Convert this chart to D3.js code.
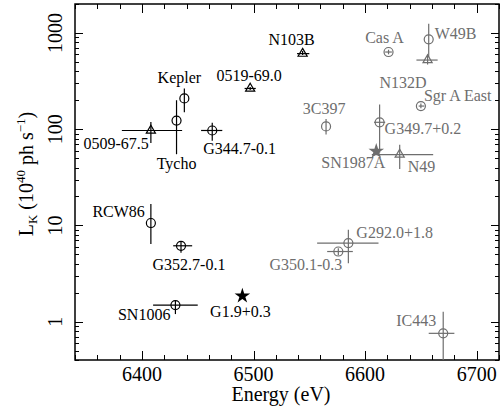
<!DOCTYPE html>
<html>
<head>
<meta charset="utf-8">
<script src="https://cdn.jsdelivr.net/npm/d3@7"></script>
<style>
  body { margin: 0; background: #fff; font-family: 'Liberation Serif', serif; }
  svg text { font-family: 'Liberation Serif', 'Times New Roman', serif; }
</style>
</head>
<body>
<svg id="chart" width="501" height="410"></svg>
<script>
// remnant names, line energy (eV), K-line luminosity (1e40 ph/s)
var names = ["0509-67.5", "Tycho", "Kepler", "G344.7-0.1", "0519-69.0", "N103B",
  "RCW86", "G352.7-0.1", "SN1006", "G1.9+0.3",
  "3C397", "Cas A", "W49B", "N132D", "Sgr A East", "G349.7+0.2", "SN1987A", "N49",
  "G292.0+1.8", "G350.1-0.3", "IC443"];
var energy = [6408, 6431, 6438, 6463, 6497, 6544,
  6408, 6435, 6430, 6490,
  6565, 6621, 6657, 6656, 6650, 6613, 6610, 6631,
  6585, 6576, 6670];
var lum = [97, 123, 209, 97, 265, 610,
  10.6, 6.15, 1.49, 1.85,
  107, 634, 860, 523, 174, 118, 59, 54.5,
  6.56, 5.36, 0.757];
var eLo = [6382, 6431, 6438, 6453, 6492, 6539,
  6408, 6428, 6410, 6490,
  6565, 6618, 6657, 6646, 6648, 6608, 6610, 6606,
  6557, 6566, 6657];
var eHi = [6436, 6431, 6438, 6472, 6502, 6550,
  6408, 6445, 6450, 6490,
  6565, 6624, 6657, 6665, 6653, 6618, 6610, 6661,
  6612, 6589, 6680];
var lLo = [72, 55, 150, 76, 255, 590,
  6.4, 5.2, 1.2, 1.85,
  88, 600, 560, 470, 165, 57, 59, 38.6,
  4.06, 4.9, 0.3];
var lHi = [119, 200, 265, 117, 275, 650,
  16.7, 6.8, 1.68, 1.85,
  128, 670, 1250, 580, 185, 181, 59, 69,
  9.0, 5.8, 1.27];
var kind = ["tri", "circ", "circ", "circ", "tri", "tri",
  "circ", "circ", "circ", "star",
  "circ", "circ", "circ", "tri", "circ", "circ", "star", "tri",
  "circ", "circ", "circ"];
var grey = [0, 0, 0, 0, 0, 0,
  0, 0, 0, 0,
  1, 1, 1, 1, 1, 1, 1, 1,
  1, 1, 1];
var xTicks = [6400, 6500, 6600, 6700];
var yTicks = [1, 10, 100, 1000];

// label placement: anchor, dx, dy relative to the marker
var labelPos = {
  "0509-67.5": ["end", -2, 19], "Tycho": ["middle", 0, 48], "Kepler": ["middle", -5, -15],
  "G344.7-0.1": ["start", -9, 24], "0519-69.0": ["middle", -1, -7], "N103B": ["middle", -11, -9],
  "RCW86": ["end", -6, -6], "G352.7-0.1": ["middle", 8, 24], "SN1006": ["end", -5, 15],
  "G1.9+0.3": ["middle", -2, 21], "3C397": ["middle", -2, -12], "Cas A": ["middle", -4, -9],
  "W49B": ["start", 6, 0], "N132D": ["end", -1, 28], "Sgr A East": ["start", 3, -5],
  "G349.7+0.2": ["start", 5, 12], "SN1987A": ["end", 9, 17], "N49": ["start", 8, 17],
  "G292.0+1.8": ["start", 8, -5], "G350.1-0.3": ["end", 4, 18], "IC443": ["end", -7, -7]
};

var FONT = "Liberation Serif";

var svg = d3.select("#chart"),
    margin = {top: 4, right: 2, bottom: 50, left: 75},
    width = +svg.attr("width") - margin.left - margin.right,
    height = +svg.attr("height") - margin.top - margin.bottom;

var x = d3.scaleLinear().domain([6340, 6720]).range([0, width]),
    y = d3.scaleLog().domain([0.4, 2000]).range([height, 0]);

var g = svg.append("g")
    .attr("transform", "translate(" + margin.left + "," + margin.top + ")")
    .style("font-family", FONT);

var black = "#000", gray = "#6e6e6e";
function col(i) { return grey[i] ? gray : black; }

// ticks
var xMinor = d3.range(6340, 6721, 20);
var yMinor = [];
[0.1, 1, 10, 100, 1000].forEach(function(d) {
  for (var k = 1; k <= 9; k++) {
    var v = d * k;
    if (v >= 0.4 && v <= 2000) yMinor.push(v);
  }
});
function isMajorY(v) { return yTicks.some(function(t) { return Math.abs(t - v) < 1e-9; }); }

var tk = g.append("g").attr("stroke", "#000").attr("stroke-width", 1);
xMinor.forEach(function(v) {
  var len = xTicks.indexOf(v) >= 0 ? 9 : 5;
  var px = Math.round(x(v)) + 0.5;
  tk.append("line").attr("x1", px).attr("x2", px).attr("y1", height).attr("y2", height - len);
  tk.append("line").attr("x1", px).attr("x2", px).attr("y1", 0).attr("y2", len);
});
yMinor.forEach(function(v) {
  var len = isMajorY(v) ? 8 : 4;
  var py = Math.round(y(v)) + 0.5;
  tk.append("line").attr("x1", 0).attr("x2", len).attr("y1", py).attr("y2", py);
  tk.append("line").attr("x1", width).attr("x2", width - len).attr("y1", py).attr("y2", py);
});

g.append("rect").attr("x", 0).attr("y", 0).attr("width", width).attr("height", height)
  .attr("fill", "none").attr("stroke", "#000").attr("stroke-width", 1.5);

g.selectAll(".xt").data(xTicks).enter().append("text")
  .style("font-family", FONT)
  .attr("x", function(d) { return x(d); }).attr("y", height + 21)
  .attr("text-anchor", "middle").attr("font-size", 20).text(function(d) { return d; });

g.selectAll(".yt").data(yTicks).enter().append("text")
  .style("font-family", FONT)
  .attr("transform", function(d) { return "translate(-13," + y(d) + ") rotate(-90)"; })
  .attr("text-anchor", "middle").attr("font-size", 20).text(function(d) { return d; });

g.append("text").style("font-family", FONT)
  .attr("x", width / 2 - 6).attr("y", height + 41)
  .attr("text-anchor", "middle").attr("font-size", 20).text("Energy (eV)");

var yt = g.append("text").style("font-family", FONT)
  .attr("transform", "translate(-42," + (height / 2 - 8) + ") rotate(-90)")
  .attr("text-anchor", "middle").attr("font-size", 20);
yt.append("tspan").text("L");
yt.append("tspan").attr("font-size", 13).attr("dy", 4).text("K");
yt.append("tspan").attr("dy", -4).text(" (10");
yt.append("tspan").attr("font-size", 13).attr("dy", -8).text("40");
yt.append("tspan").attr("dy", 8).text(" ph s");
yt.append("tspan").attr("font-size", 13).attr("dy", -8).text("\u22121");
yt.append("tspan").attr("dy", 8).text(")");

// points
var idx = d3.range(names.length);
var pts = g.selectAll(".pt").data(idx).enter().append("g")
  .attr("class", "pt").attr("stroke", col).attr("fill", "none").attr("stroke-width", 1.2);

pts.append("line")
  .attr("x1", function(i) { return x(eLo[i]); }).attr("x2", function(i) { return x(eHi[i]); })
  .attr("y1", function(i) { return y(lum[i]); }).attr("y2", function(i) { return y(lum[i]); });
pts.append("line")
  .attr("x1", function(i) { return x(energy[i]); }).attr("x2", function(i) { return x(energy[i]); })
  .attr("y1", function(i) { return y(Math.max(lLo[i], 0.4)); }).attr("y2", function(i) { return y(lHi[i]); });

pts.filter(function(i) { return kind[i] === "circ"; }).append("circle")
  .attr("cx", function(i) { return x(energy[i]); }).attr("cy", function(i) { return y(lum[i]); })
  .attr("r", 4.5);
pts.filter(function(i) { return kind[i] === "tri"; }).append("path")
  .attr("transform", function(i) { return "translate(" + x(energy[i]) + "," + y(lum[i]) + ")"; })
  .attr("d", d3.symbol(d3.symbolTriangle, 36));
pts.filter(function(i) { return kind[i] === "star"; }).append("path")
  .attr("transform", function(i) { return "translate(" + x(energy[i]) + "," + y(lum[i]) + ")"; })
  .attr("d", d3.symbol(d3.symbolStar, 75))
  .attr("fill", col).attr("stroke", "none");

// labels
g.selectAll(".lbl").data(idx).enter().append("text")
  .style("font-family", FONT)
  .attr("x", function(i) { return x(energy[i]) + labelPos[names[i]][1]; })
  .attr("y", function(i) { return y(lum[i]) + labelPos[names[i]][2]; })
  .attr("text-anchor", function(i) { return labelPos[names[i]][0]; })
  .attr("font-size", 16).attr("fill", col)
  .text(function(i) { return names[i]; });
</script>
</body>
</html>
